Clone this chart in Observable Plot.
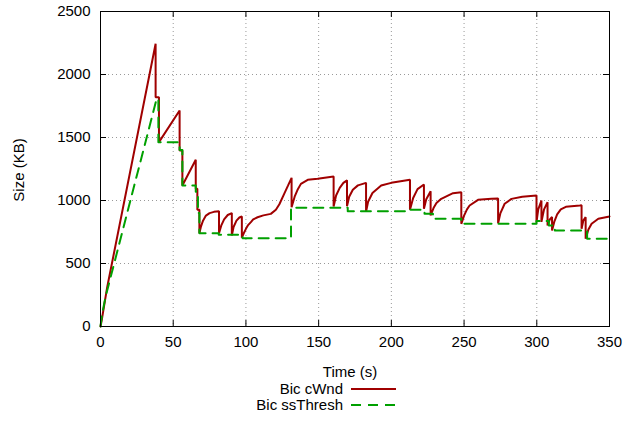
<!DOCTYPE html>
<html>
<head>
<meta charset="utf-8">
<script src="https://cdn.jsdelivr.net/npm/d3@7"></script>
<script src="https://cdn.jsdelivr.net/npm/@observablehq/plot@0.6"></script>
<style>
  html, body { margin: 0; padding: 0; background: #fff; }
  #wrap { position: relative; width: 626px; height: 432px; font-family: "Liberation Sans", Arial, sans-serif; color: #000; }
  #wrap svg { display: block; }
  .lbl { position: absolute; font-size: 15px; white-space: nowrap; line-height: 1; }
  .legrow { position: absolute; left: 0; width: 626px; height: 16px; font-size: 15px; line-height: 16px; }
  .legrow span { position: absolute; right: 283px; top: 0; white-space: nowrap; }
  .legrow svg { position: absolute; left: 350px; top: 0; }
</style>
</head>
<body>
<div id="wrap"></div>
<script>
// ---- data ----
const xTicks = [0, 50, 100, 150, 200, 250, 300, 350];
const yTicks = [0, 500, 1000, 1500, 2000, 2500];
const seriesNames = ["Bic cWnd", "Bic ssThresh"];
const seriesColors = ["#a00000", "#00a000"];

// [time (s), size (KB)]
const cwndPoints = [
  [0,0],[1,60],[4.6,312],[37.9,2244],[37.9,1820],[40.2,1820],[40.2,1463],
  [54.4,1714],[54.4,1397],[56.3,1397],[56.3,1119],[65.5,1323],[65.5,1093],
  [66.6,1093],[66.6,926],[68,926],[68,740],
  [69,790],[70.5,840],[72.5,880],[75,900],[78,910],[81.5,915],[81.5,741],
  [83,800],[85,850],[87.5,885],[90.3,900],[90.3,722],
  [91.5,790],[93.5,840],[95.5,865],[97.2,873],[97.2,705],
  [98.5,740],[100,775],[101.5,805],[103.4,828],[105,850],[108,867],[112,882],
  [117.1,894],[120.6,926],[123,970],[126.3,1053],[129,1120],[131.4,1180],[131.4,947],
  [133.5,1030],[135.5,1085],[137.8,1132],[142.5,1164],[149.3,1172],[160.3,1190],[160.3,952],
  [162,1040],[164.5,1100],[167,1140],[169.5,1160],[169.5,955],
  [171,1030],[173.5,1085],[177,1120],[182.6,1140],[182.6,910],
  [184,990],[187,1060],[193,1119],[199.9,1140],[212.8,1165],[212.8,926],
  [215,1020],[218,1090],[222.4,1127],[222.4,934],[224,1010],[227,1074],[227,881],
  [229,940],[231,980],[234.3,1013],[242.4,1058],[248.1,1066],[248.1,815],
  [250,880],[252,930],[253.8,960],[259.6,1005],[268.8,1013],[273.4,1015],[273.4,820],
  [275,900],[277.9,974],[282.6,1013],[290,1030],[299.8,1040],[299.8,828],
  [301,930],[303.2,1000],[303.2,830],[305,930],[307.4,987],[307.4,802],
  [309,850],[310.5,870],[310.5,762],[312,830],[314,890],[316.5,930],[320,950],
  [329.6,960],[330.8,962],[330.8,775],[332,840],[333.6,868],[333.6,696],
  [335.5,770],[337.7,815],[342.3,855],[350,873]
];

const ssThreshPoints = [
  [0,0],[1,90],[3.4,232],[38.6,1807],[39.8,1807],[39.8,1463],[54.4,1463],
  [54.4,1400],[56.3,1400],[56.3,1119],[65.5,1119],[65.5,1070],[67,1070],
  [67,900],[68,900],[68,740],[81.3,740],[81.3,728],[97.7,728],[97.7,701],
  [131,701],[131,942],[170,942],[170,915],[213,915],[213,926],[222.8,926],
  [222.8,894],[228.6,894],[228.6,855],[248.1,855],[248.1,815],[299.8,815],
  [299.8,838],[308.3,838],[308.3,802],[312.4,802],[312.4,762],[334.6,762],
  [334.6,696],[350,696]
];

// ---- build ----
const cwnd = cwndPoints.map(([t, v]) => ({t, v}));
const ss = ssThreshPoints.map(([t, v]) => ({t, v}));
const gridXs = xTicks.slice(1, -1);
const gridYs = yTicks.slice(1, -1);

const H = 432, mT = 11, mB = 106, innerH = H - mT - mB;
const W = 626, mL = 100, mR = 17, innerW = W - mL - mR;
const tick = 6;

const chart = Plot.plot({
  width: W, height: H,
  marginLeft: mL, marginRight: mR, marginTop: mT, marginBottom: mB,
  style: {fontFamily: "Liberation Sans, Arial, sans-serif", fontSize: "15px", background: "white", color: "black"},
  x: {domain: [0, 350]},
  y: {domain: [0, 2500]},
  marks: [
    Plot.ruleX(gridXs, {stroke: "#999", strokeDasharray: "1,3", strokeWidth: 1}),
    Plot.ruleY(gridYs, {stroke: "#999", strokeDasharray: "1,3", strokeWidth: 1}),
    Plot.line(cwnd, {x: "t", y: "v", stroke: seriesColors[0], strokeWidth: 2, strokeLinejoin: "miter"}),
    Plot.line(ss, {x: "t", y: "v", stroke: seriesColors[1], strokeWidth: 2, strokeDasharray: "10,7"}),
    Plot.ruleX(xTicks, {insetTop: innerH - tick, stroke: "black"}),
    Plot.ruleX(xTicks, {insetBottom: innerH - tick, stroke: "black"}),
    Plot.ruleY(yTicks, {insetRight: innerW - tick, stroke: "black"}),
    Plot.ruleY(yTicks, {insetLeft: innerW - tick, stroke: "black"}),
    Plot.frame({stroke: "black"}),
    Plot.axisX(xTicks, {tickSize: 0, tickPadding: 10, fontSize: 15, label: null, tickFormat: d => String(d)}),
    Plot.axisY(yTicks, {tickSize: 0, tickPadding: 10, fontSize: 15, label: null, tickFormat: d => String(d)})
  ]
});

const wrap = document.getElementById("wrap");
wrap.appendChild(chart);

// axis titles
const xl = document.createElement("div");
xl.className = "lbl"; xl.textContent = "Time (s)";
xl.style.left = "350px"; xl.style.top = "364px";
xl.style.transform = "translateX(-50%)";
wrap.appendChild(xl);

const yl = document.createElement("div");
yl.className = "lbl"; yl.textContent = "Size (KB)";
yl.style.left = "18px"; yl.style.top = "170px";
yl.style.transform = "translate(-50%,-50%) rotate(-90deg)";
wrap.appendChild(yl);

// legend
seriesNames.forEach((name, i) => {
  const row = document.createElement("div");
  row.className = "legrow";
  row.style.top = (381 + i * 16) + "px";
  const s = document.createElement("span");
  s.textContent = name;
  row.appendChild(s);
  const svg = d3.create("svg").attr("width", 48).attr("height", 16);
  svg.append("line").attr("x1", 1).attr("x2", 46).attr("y1", 8).attr("y2", 8)
    .attr("stroke", seriesColors[i]).attr("stroke-width", 2)
    .attr("stroke-dasharray", i === 1 ? "10,7" : null);
  row.appendChild(svg.node());
  wrap.appendChild(row);
});
</script>
</body>
</html>
